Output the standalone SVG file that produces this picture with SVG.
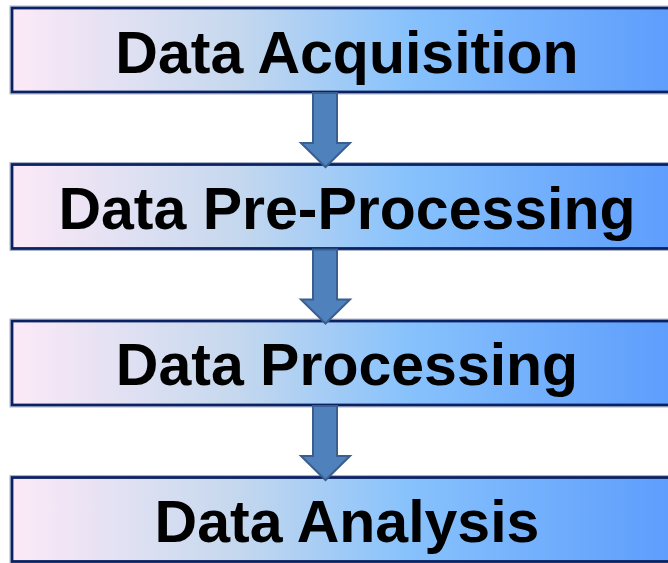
<svg xmlns="http://www.w3.org/2000/svg" width="668" height="563" viewBox="0 0 668 563">
  <defs>
    <linearGradient id="boxFill" x1="0" y1="0" x2="1" y2="0">
      <stop offset="0" stop-color="#fde9f7"/>
      <stop offset="0.33" stop-color="#c5d8ee"/>
      <stop offset="0.58" stop-color="#88c2fc"/>
      <stop offset="1" stop-color="#5a9afc"/>
    </linearGradient>
  </defs>
  <style>
    .box { fill: url(#boxFill); stroke: #0a2262; stroke-width: 2.8; }
    .halo { fill: none; stroke: #a9b4cc; stroke-width: 1; }
    .label { font-family: "Liberation Sans", Arial, sans-serif; font-weight: bold; font-size: 59px; fill: #000; text-anchor: middle; }
    .arrow { fill: #4f81bd; stroke: #3a5f8e; stroke-width: 2; stroke-linejoin: miter; }
  </style>
  <rect width="668" height="563" fill="#ffffff"/>

  <g id="node-acquisition">
    <rect class="halo" x="10" y="6" width="684" height="88"/>
    <rect class="box" x="12" y="8" width="680" height="84"/>
    <text class="label" x="347" y="72.5">Data Acquisition</text>
  </g>

  <g id="node-preprocessing">
    <rect class="halo" x="10" y="162.5" width="684" height="88"/>
    <rect class="box" x="12" y="164.5" width="680" height="84"/>
    <text class="label" x="347" y="228.5">Data Pre-Processing</text>
  </g>

  <g id="node-processing">
    <rect class="halo" x="10" y="319" width="684" height="88"/>
    <rect class="box" x="12" y="321" width="680" height="84"/>
    <text class="label" x="347" y="385">Data Processing</text>
  </g>

  <g id="node-analysis">
    <rect class="halo" x="10" y="475.5" width="684" height="88"/>
    <rect class="box" x="12" y="477.5" width="680" height="84"/>
    <text class="label" x="347" y="541.5">Data Analysis</text>
  </g>

  <g id="connectors">
    <polygon class="arrow" points="313,93 337,93 337,143 350,143 325.5,167 301,143 313,143"/>
    <polygon class="arrow" points="313,249.5 337,249.5 337,299.5 350,299.5 325.5,323.5 301,299.5 313,299.5"/>
    <polygon class="arrow" points="313,406 337,406 337,456 350,456 325.5,480 301,456 313,456"/>
  </g>
</svg>
